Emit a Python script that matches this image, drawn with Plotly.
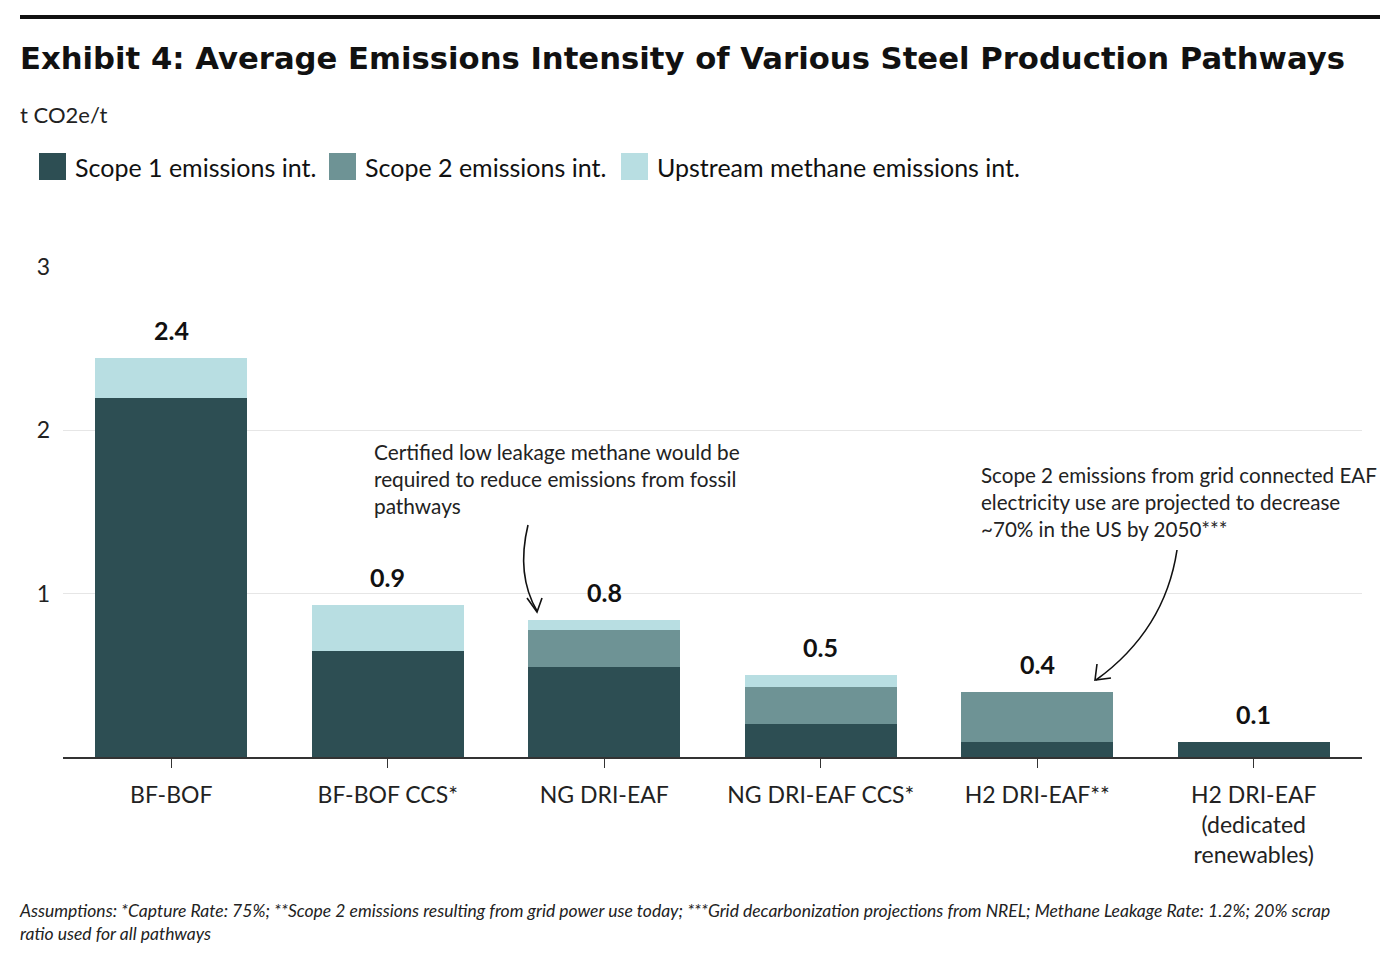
import plotly.graph_objects as go

categories = ["BF-BOF", "BF-BOF CCS*", "NG DRI-EAF", "NG DRI-EAF CCS*", "H2 DRI-EAF**",
              "H2 DRI-EAF<br>(dedicated<br>renewables)"]
scope1 = [2.20, 0.65, 0.55, 0.20, 0.09, 0.09]
scope2 = [0.0, 0.0, 0.23, 0.23, 0.31, 0.0]
upstream = [0.24, 0.28, 0.06, 0.07, 0.0, 0.0]
total_labels = ["2.4", "0.9", "0.8", "0.5", "0.4", "0.1"]
series_names = ["Scope 1 emissions int.", "Scope 2 emissions int.", "Upstream methane emissions int."]
series_colors = ["#2D4E53", "#6E9395", "#B8DEE2"]

OFF = 8  # page body margin
W, H = 1400 - OFF, 959 - OFF
L, R, T, B = 63 - OFF, 1362 - OFF, 267 - OFF, 757 - OFF

def px(x):
    return (x - OFF - L) / (R - L)

def py(y):
    return (B - (y - OFF)) / (B - T)

BODY = "Lato, 'Source Sans Pro', sans-serif"

fig = go.Figure()
for name, vals, col in zip(series_names, [scope1, scope2, upstream], series_colors):
    fig.add_trace(go.Bar(x=categories, y=vals, name=name, marker_color=col,
                         marker_line_width=0, showlegend=False))

totals = [a + b + c for a, b, c in zip(scope1, scope2, upstream)]
annotations = []
for cat, tot, lab in zip(categories, totals, total_labels):
    annotations.append(dict(x=cat, y=tot, text="<b>" + lab + "</b>", showarrow=False,
                            yanchor="bottom", yshift=11,
                            font=dict(family=BODY, size=25, color="#111111")))

# Title, unit, footnote
annotations.append(dict(xref="paper", yref="paper", x=px(18), y=py(58), xanchor="left", yanchor="middle",
                        text="<b>Exhibit 4: Average Emissions Intensity of Various Steel Production Pathways</b>",
                        showarrow=False, font=dict(family="DejaVu Sans", size=30.7, color="#111111")))
annotations.append(dict(xref="paper", yref="paper", x=px(18), y=py(114), xanchor="left", yanchor="middle",
                        text="t CO2e/t", showarrow=False, font=dict(family=BODY, size=22, color="#222222")))
annotations.append(dict(xref="paper", yref="paper", x=px(17), y=py(922), xanchor="left", yanchor="middle",
                        align="left",
                        text="<i>Assumptions: *Capture Rate: 75%; **Scope 2 emissions resulting from grid power use today; ***Grid decarbonization projections from NREL; Methane Leakage Rate: 1.2%; 20% scrap<br>ratio used for all pathways</i>",
                        showarrow=False, font=dict(family=BODY, size=17.5, color="#222222")))

# Callout texts
annotations.append(dict(xref="paper", yref="paper", x=px(372), y=py(437), xanchor="left", yanchor="top",
                        align="left",
                        text="Certified low leakage methane would be<br>required to reduce emissions from fossil<br>pathways",
                        showarrow=False, font=dict(family=BODY, size=20.8, color="#222222")))
annotations.append(dict(xref="paper", yref="paper", x=px(979), y=py(461), xanchor="left", yanchor="top",
                        align="left",
                        text="Scope 2 emissions from grid connected EAF<br>electricity use are projected to decrease<br>~70% in the US by 2050***",
                        showarrow=False, font=dict(family=BODY, size=20.6, color="#222222")))

# Legend (custom)
leg_sq = [39, 329, 621]
shapes = []
for xs, name, col in zip(leg_sq, series_names, series_colors):
    shapes.append(dict(type="rect", xref="paper", yref="paper", x0=px(xs), x1=px(xs + 27),
                       y0=py(180), y1=py(153), fillcolor=col, line_width=0))
    annotations.append(dict(xref="paper", yref="paper", x=px(xs + 34), y=py(167), xanchor="left",
                            yanchor="middle", text=name, showarrow=False,
                            font=dict(family=BODY, size=25, color="#111111")))

# Top rule
shapes.append(dict(type="line", xref="paper", yref="paper", x0=px(20), x1=px(1380), y0=py(17), y1=py(17),
                   line=dict(color="#111111", width=4)))

def P(x, y):
    return f"{px(x):.5f},{py(y):.5f}"

# Curved arrows
shapes.append(dict(type="path", xref="paper", yref="paper",
                   path=f"M {P(528,525)} Q {P(516,575)} {P(537,611)}",
                   line=dict(color="#111111", width=1.6)))
shapes.append(dict(type="path", xref="paper", yref="paper",
                   path=f"M {P(527,598)} L {P(537,612)} L {P(542,598)}",
                   line=dict(color="#111111", width=1.6)))
shapes.append(dict(type="path", xref="paper", yref="paper",
                   path=f"M {P(1177,550)} Q {P(1165,630)} {P(1096,680)}",
                   line=dict(color="#111111", width=1.6)))
shapes.append(dict(type="path", xref="paper", yref="paper",
                   path=f"M {P(1097,664)} L {P(1095,680)} L {P(1111,678)}",
                   line=dict(color="#111111", width=1.6)))

fig.update_layout(
    width=W, height=H,
    margin=dict(l=L, r=W - R, t=T, b=H - B, autoexpand=False),
    barmode="stack", bargap=0.30,
    plot_bgcolor="white", paper_bgcolor="white",
    font=dict(family=BODY, size=23, color="#222222"),
    annotations=annotations, shapes=shapes,
    xaxis=dict(showgrid=False, showline=True, linecolor="#333333", linewidth=1.5,
               ticks="outside", ticklen=9, tickcolor="#333333", tickwidth=1,
               ticklabelstandoff=8,
               tickfont=dict(family=BODY, size=23, color="#222222")),
    yaxis=dict(range=[0, 3], tickvals=[1, 2, 3], showgrid=True, gridcolor="#E6E6E6", gridwidth=1,
               zeroline=False, showline=False, ticks="", ticklabelstandoff=12,
               tickfont=dict(family=BODY, size=23, color="#222222")),
)

fig.write_html("out.html")
